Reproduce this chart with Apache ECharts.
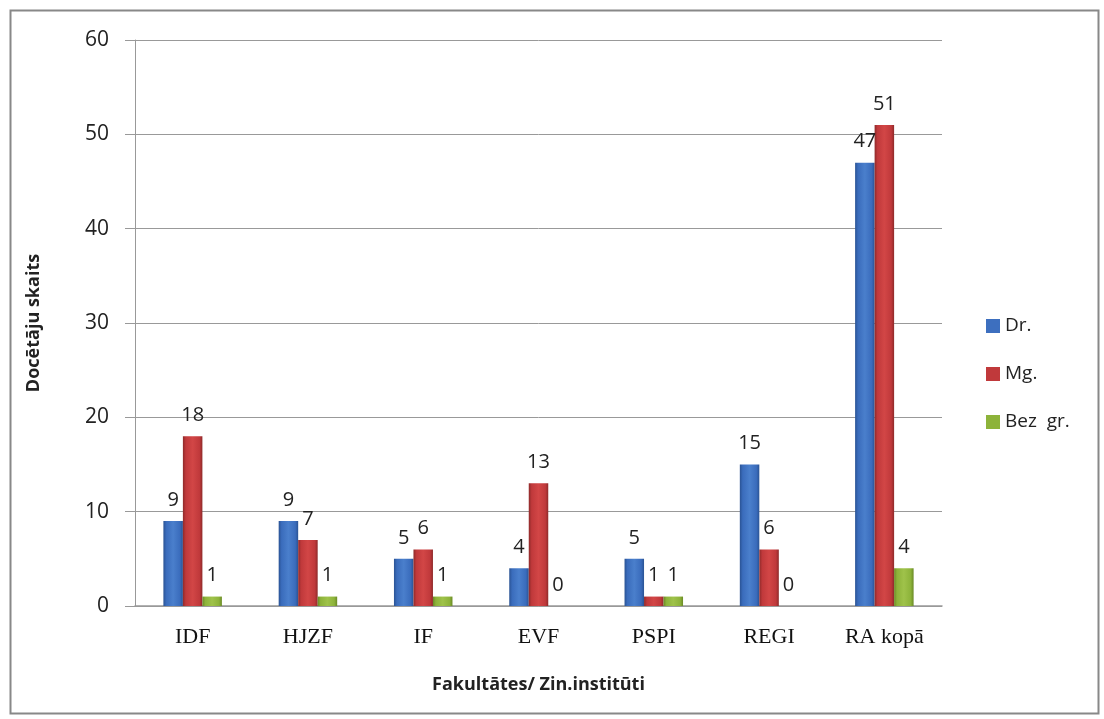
<!DOCTYPE html>
<html>
<head>
<meta charset="utf-8">
<script src="https://cdn.jsdelivr.net/npm/echarts@6/dist/echarts.min.js"></script>
<style>
  html, body { margin: 0; padding: 0; background: #fff; }
  #chart { width: 1104px; height: 719px; }
</style>
</head>
<body>
<div id="chart"></div>
<script>
const categories = ["IDF", "HJZF", "IF", "EVF", "PSPI", "REGI", "RA kopā"]
const drValues = [9, 9, 5, 4, 5, 15, 47]
const mgValues = [18, 7, 6, 13, 1, 6, 51]
const bezValues = [1, 1, 1, 0, 1, 0, 4]
const seriesNames = ["Dr.", "Mg.", "Bez  gr."]

// bevel-ish look: darker edges, lighter middle
const grad = (dark, mid, light) => new echarts.graphic.LinearGradient(0, 0, 1, 0, [
  { offset: 0, color: dark },
  { offset: 0.15, color: mid },
  { offset: 0.5, color: light },
  { offset: 0.85, color: mid },
  { offset: 1, color: dark }
])
const colors = [
  grad("#2a5394", "#3a6cbc", "#4a7fcc"),
  grad("#8e2a2a", "#c0393b", "#d24646"),
  grad("#6a8a26", "#8db33a", "#9fc24a")
]
const legendColors = ["#3d6fbf", "#c0393b", "#8db33a"]

const labelStyle = {
  show: true,
  position: "top",
  distance: 11,
  color: "#222",
  fontSize: 20,
  fontFamily: "Open Sans"
}

const makeSeries = (i, data) => ({
  name: seriesNames[i],
  type: "bar",
  data: data,
  barWidth: 19.5,
  barGap: "0%",
  itemStyle: { color: colors[i] },
  label: labelStyle
})

const chart = echarts.init(document.getElementById("chart"))
chart.setOption({
  animation: false,
  backgroundColor: "#fff",
  color: legendColors,
  graphic: [{
    type: "rect",
    left: 8, top: 8,
    shape: { width: 1088, height: 703 },
    style: { fill: null, stroke: "#888", lineWidth: 2 },
    z: -1
  }],
  legend: {
    orient: "vertical",
    left: 981,
    top: 311,
    itemWidth: 14,
    itemHeight: 14,
    itemGap: 28,
    icon: "rect",
    textStyle: { fontSize: 19, fontFamily: "Open Sans", color: "#222", lineHeight: 20 },
    data: seriesNames.map((n, i) => ({ name: n, itemStyle: { color: legendColors[i] } }))
  },
  grid: { left: 135, right: 162, top: 40, bottom: 113 },
  xAxis: {
    type: "category",
    data: categories,
    name: "Fakultātes/ Zin.institūti",
    nameLocation: "middle",
    nameGap: 70,
    nameTextStyle: { fontSize: 18, fontWeight: "bold", fontFamily: "Open Sans", color: "#222" },
    axisLine: { lineStyle: { color: "#999", width: 1.5 } },
    axisTick: { show: false },
    axisLabel: { fontSize: 22, fontFamily: "Liberation Serif", color: "#111", margin: 20 }
  },
  yAxis: {
    type: "value",
    min: 0,
    max: 60,
    interval: 10,
    name: "Docētāju skaits",
    nameLocation: "middle",
    nameGap: 92,
    nameTextStyle: { fontSize: 18, fontWeight: "bold", fontFamily: "Open Sans", color: "#222" },
    axisLine: { show: true, lineStyle: { color: "#999" } },
    axisTick: { show: true, length: 10, lineStyle: { color: "#999" } },
    axisLabel: { fontSize: 21, fontFamily: "Open Sans", color: "#222", margin: 26 },
    splitLine: { lineStyle: { color: "#999" } }
  },
  series: [
    makeSeries(0, drValues),
    makeSeries(1, mgValues),
    makeSeries(2, bezValues)
  ]
})
</script>
</body>
</html>
